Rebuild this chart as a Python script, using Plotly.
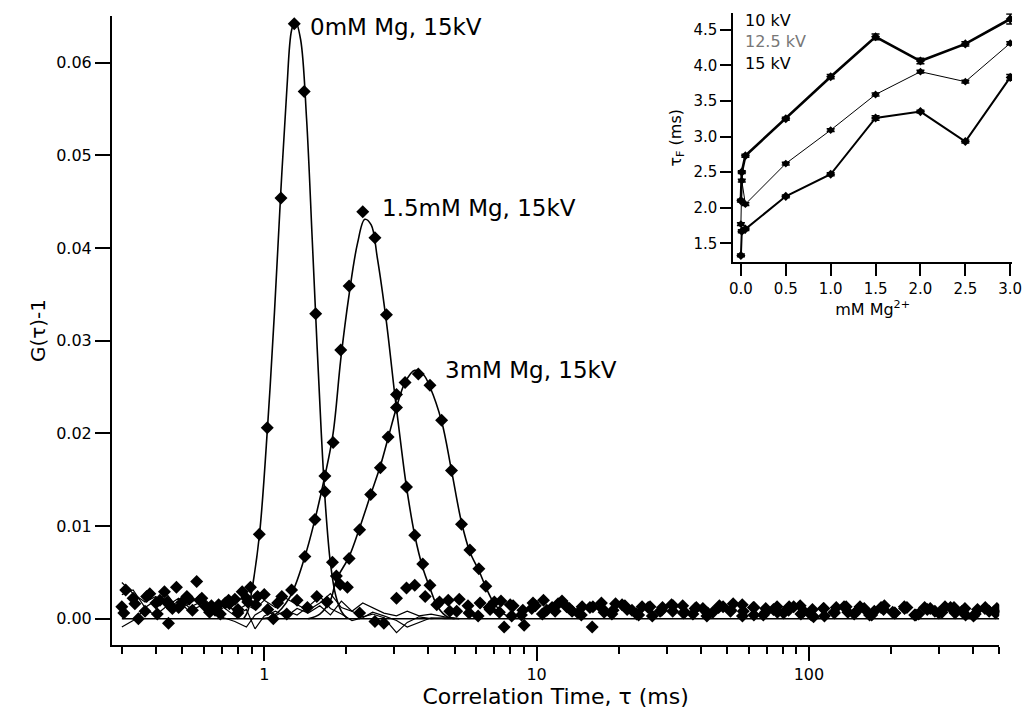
import plotly.graph_objects as go

# ---------------- main panel data ----------------
# 0 mM Mg, 15 kV : measured points
tau_0mM = [0.31, 0.345, 0.38, 0.414, 0.445, 0.476, 0.52, 0.565, 0.61, 0.66, 0.72, 0.78, 0.83, 0.89,
           0.959, 1.026, 1.152, 1.289, 1.402, 1.545, 1.67, 1.78,
           1.90, 2.02, 2.24, 2.55, 2.75, 3.06, 3.33, 3.57, 3.9, 4.3, 4.74, 5.09, 5.6, 6.1, 6.7, 7.3, 8.0,
           8.8, 9.6, 10.6, 11.7, 12.9, 14.2, 15.7, 17.3, 19.1, 21.1, 23.3, 25.7, 28.4, 31.3, 34.6, 38.2,
           42.2, 46.6, 51.5, 56.9, 62.8, 69.4, 76.6, 84.6, 93.4, 103, 114, 126, 139, 154, 170, 188, 207,
           229, 253, 279, 308, 341, 376, 416, 459, 490]
g_0mM = [0.0031, 0.0000, 0.0027, 0.0020, -0.0005, 0.0034, 0.0024, 0.0040, 0.0013, 0.0009, 0.0017, 0.0021, 0.0029, 0.0034,
         0.0091, 0.0206, 0.0454, 0.0642, 0.0569, 0.0329, 0.0137, 0.0061,
         0.0037, 0.0034, 0.0006, -0.0003, -0.0005, 0.0022, 0.0033, 0.0036, 0.0024, 0.0015, 0.0020, 0.0008, 0.0014, 0.0003, 0.0012, 0.0007, 0.0015,
         0.0004, 0.0011, 0.0020, 0.0008, 0.0013, 0.0006, 0.0012, 0.0017, 0.0009, 0.0014, 0.0005, 0.0012, 0.0008, 0.0015, 0.0006, 0.0011,
         0.0003, 0.0012, 0.0008, 0.0015, 0.0004, 0.0011, 0.0007, 0.0013, 0.0005, 0.0010, 0.0003, 0.0012, 0.0007, 0.0013, 0.0004, 0.0010, 0.0006,
         0.0012, 0.0005, 0.0011, 0.0007, 0.0012, 0.0004, 0.0010, 0.0008, 0.0011]

# 1.5 mM Mg, 15 kV : measured points
tau_15mM = [0.30, 0.33, 0.365, 0.40, 0.43, 0.46, 0.50, 0.545, 0.59, 0.64, 0.69, 0.745, 0.80, 0.86, 0.93, 1.00,
            1.08, 1.16, 1.26,
            1.41, 1.535, 1.67, 1.79, 1.91, 2.05, 2.30, 2.55, 2.81, 3.06, 3.33, 3.57, 3.82, 4.06,
            4.4, 4.8, 5.2, 5.65, 6.2, 6.75, 7.4, 8.1, 9.0, 9.9, 10.9, 12.0, 13.2, 14.6, 16.1, 17.7, 19.5,
            21.5, 23.7, 26.1, 28.8, 31.7, 35.0, 38.6, 42.5, 46.9, 51.7, 57.0, 62.9, 69.3, 76.4, 84.2, 92.9,
            102, 113, 124, 137, 151, 167, 184, 203, 224, 247, 272, 300, 331, 365, 402, 443, 485]
g_15mM = [0.0013, 0.0022, 0.0008, 0.0017, 0.0029, 0.0011, 0.0018, 0.0009, 0.0022, 0.0014, 0.0005, 0.0016, 0.0010, 0.0022, 0.0015, 0.0026,
          0.0000, 0.0024, 0.0031,
          0.0067, 0.0107, 0.0154, 0.0190, 0.0290, 0.0359, 0.0439, 0.0411, 0.0328, 0.0242, 0.0142, 0.0090, 0.0059, 0.0036,
          0.0018, 0.0008, 0.0021, 0.0006, 0.0017, 0.0010, 0.0019, 0.0003, -0.0007, 0.0014, 0.0009, 0.0016, 0.0011, 0.0004, 0.0013, 0.0007, 0.0016,
          0.0010, 0.0004, 0.0013, 0.0009, 0.0014, 0.0007, 0.0012, 0.0006, 0.0014, 0.0009, 0.0003, 0.0012, 0.0007, 0.0013, 0.0009, 0.0014,
          0.0004, 0.0011, 0.0006, 0.0013, 0.0009, 0.0004, 0.0012, 0.0007, 0.0013, 0.0004, 0.0010, 0.0006, 0.0012, 0.0008, 0.0003, 0.0011, 0.0006]

# 3 mM Mg, 15 kV : measured points
tau_3mM = [0.305, 0.335, 0.37, 0.405, 0.44, 0.485, 0.53, 0.58, 0.63, 0.68, 0.74, 0.80, 0.87, 0.945, 1.03, 1.12, 1.21, 1.32, 1.44, 1.56, 1.70,
           1.84, 2.05, 2.24, 2.46, 2.67, 2.85, 3.06, 3.29, 3.68, 4.06, 4.48, 4.87, 5.30, 5.69, 6.14, 6.51,
           7.0, 7.6, 8.2, 8.9, 9.7, 10.5, 11.4, 12.4, 13.5, 14.7, 16.0, 17.4, 18.9, 20.6, 22.4, 24.4, 26.6, 29.0,
           31.6, 34.4, 37.5, 40.8, 44.4, 48.4, 52.7, 57.4, 62.5, 68.0, 74.1, 80.7, 87.9, 95.7, 104, 113.5, 123.6,
           134.6, 146.6, 159.6, 173.8, 189.3, 206, 224.5, 244.5, 266, 290, 316, 344, 374, 408, 444, 480]
g_3mM = [0.0006, 0.0016, 0.0024, 0.0005, 0.0018, 0.0012, 0.0021, 0.0020, 0.0007, 0.0015, 0.0020, 0.0006, 0.0018, 0.0024, 0.0010, 0.0017, 0.0005, 0.0020, 0.0012, 0.0024, 0.0018,
         0.0046, 0.0065, 0.0096, 0.0134, 0.0163, 0.0196, 0.0228, 0.0255, 0.0264, 0.0252, 0.0214, 0.0160, 0.0102, 0.0074, 0.0054, 0.0035,
         0.0018, -0.0009, 0.0014, 0.0009, 0.0017, 0.0005, 0.0012, 0.0019, 0.0008, 0.0013, -0.0009, 0.0011, 0.0005, 0.0015, 0.0009, 0.0013, 0.0003, 0.0012,
         0.0008, 0.0014, 0.0005, 0.0011, 0.0007, 0.0013, 0.0016, 0.0008, 0.0012, 0.0004, 0.0010, 0.0006, 0.0013, 0.0008, 0.0002, 0.0011, 0.0007,
         0.0013, 0.0005, 0.0011, 0.0008, 0.0014, 0.0006, 0.0011, 0.0004, 0.0012, 0.0008, 0.0013, 0.0006, 0.0011, 0.0005, 0.0012, 0.0008]

# smooth fitted curves, peak part only
fit_tau_0mM = [0.84, 0.87, 0.90, 0.96, 1.03, 1.09, 1.15, 1.21, 1.26, 1.30, 1.36, 1.43, 1.50, 1.56, 1.62, 1.68, 1.75, 1.83, 1.92, 2.02]
fit_g_0mM = [0.0, 0.0008, 0.003, 0.009, 0.021, 0.033, 0.046, 0.057, 0.0635, 0.0645, 0.0625, 0.054, 0.041, 0.030, 0.020, 0.012, 0.006, 0.0025, 0.0008, 0.0]
fit_tau_15mM = [0.98, 1.08, 1.24, 1.41, 1.535, 1.67, 1.79, 1.91, 2.05, 2.20, 2.34, 2.47, 2.60, 2.81, 3.02, 3.20, 3.33, 3.57, 3.82, 4.06, 4.35, 4.7, 5.0]
fit_g_15mM = [0.0, 0.0003, 0.0023, 0.0067, 0.0107, 0.0154, 0.0200, 0.0280, 0.0350, 0.0405, 0.0431, 0.0425, 0.0390, 0.0320, 0.0240, 0.0180, 0.0142, 0.0090, 0.0055, 0.0033, 0.0012, 0.0002, 0.0]
fit_tau_3mM = [1.45, 1.60, 1.75, 1.84, 2.05, 2.24, 2.46, 2.67, 2.85, 3.06, 3.29, 3.57, 3.85, 4.06, 4.48, 4.87, 5.30, 5.69, 6.14, 6.51, 7.0, 7.6, 8.3]
fit_g_3mM = [0.0, 0.0005, 0.0020, 0.0042, 0.0067, 0.0098, 0.0134, 0.0165, 0.0195, 0.0228, 0.0255, 0.0268, 0.0263, 0.0250, 0.0213, 0.0160, 0.0104, 0.0072, 0.0052, 0.0034, 0.0016, 0.0005, 0.0]

# flat zero line of the fits
zero_tau = [0.30, 500]
zero_g = [0.0, 0.0]

# jagged baseline traces (lines only)
noise_tau = [0.30, 0.33, 0.365, 0.40, 0.44, 0.485, 0.53, 0.585, 0.645, 0.71, 0.78, 0.86, 0.925, 1.0, 1.1, 1.2,
             1.32, 1.45, 1.6, 1.75, 1.92, 2.1, 2.3, 2.5, 2.75, 3.06, 3.35, 3.7, 4.1, 4.6, 5.2]
noise_a = [0.0039, 0.0027, 0.0018, 0.0024, 0.0011, 0.0019, 0.0008, 0.0014, 0.0005, 0.0012, 0.0003, 0.0010, -0.0011, 0.0003, 0.0008, 0.0002,
           0.0011, 0.0006, 0.0014, 0.0004, 0.0019, 0.0008, 0.0002, 0.0005, 0.0001, -0.0015, -0.0004, 0.0002, 0.0000, 0.0001, 0.0]
noise_b = [-0.0009, -0.0002, 0.0010, 0.0004, 0.0014, 0.0022, 0.0012, 0.0018, 0.0009, 0.0001, -0.0003, -0.0009, 0.0004, 0.0010, 0.0003, 0.0009,
           0.0004, 0.0013, 0.0024, 0.0011, 0.0005, -0.0002, 0.0001, 0.0007, 0.0003, -0.0002, -0.0009, -0.0004, 0.0001, 0.0000, 0.0]
noise_c = [0.0026, 0.0031, 0.0012, 0.0020, 0.0026, 0.0010, 0.0016, 0.0025, 0.0013, 0.0019, 0.0008, 0.0015, 0.0010, 0.0020, 0.0012, 0.0022,
           0.0015, 0.0009, 0.0017, 0.0027, 0.0012, 0.0008, 0.0017, 0.0012, 0.0006, 0.0003, 0.0008, 0.0003, 0.0005, 0.0002, 0.0]

labels_main = ["0mM Mg, 15kV", "1.5mM Mg, 15kV", "3mM Mg, 15kV"]
x_ticks_main = [1, 10, 100]

# ---------------- inset data ----------------
mg_conc = [0.0, 0.01, 0.05, 0.5, 1.0, 1.5, 2.0, 2.5, 3.0]
tauF_10kV = [2.10, 2.50, 2.73, 3.25, 3.84, 4.40, 4.06, 4.30, 4.65]
tauF_12kV = [1.77, 2.38, 2.05, 2.62, 3.09, 3.59, 3.91, 3.77, 4.31]
tauF_15kV = [1.33, 1.67, 1.70, 2.16, 2.47, 3.26, 3.35, 2.93, 3.83]
err_10kV = [0.02, 0.02, 0.02, 0.02, 0.03, 0.04, 0.04, 0.03, 0.07]
err_12kV = [0.02, 0.02, 0.02, 0.02, 0.02, 0.02, 0.02, 0.02, 0.02]
err_15kV = [0.02, 0.02, 0.02, 0.02, 0.02, 0.03, 0.02, 0.02, 0.04]
inset_labels = ["10 kV", "12.5 kV", "15 kV"]
inset_label_colors = ["black", "#777777", "black"]

FONT = "DejaVu Sans"
fig = go.Figure()

# baseline noise lines
for nz in (noise_a, noise_b, noise_c):
    fig.add_trace(go.Scatter(x=noise_tau, y=nz, mode="lines",
                             line=dict(color="black", width=1.2), xaxis="x", yaxis="y"))
# zero line of the fits
fig.add_trace(go.Scatter(x=zero_tau, y=zero_g, mode="lines", line=dict(color="black", width=1.5),
                         xaxis="x", yaxis="y"))
# fits
for ft, fg in ((fit_tau_0mM, fit_g_0mM), (fit_tau_15mM, fit_g_15mM), (fit_tau_3mM, fit_g_3mM)):
    fig.add_trace(go.Scatter(x=ft, y=fg, mode="lines", line=dict(color="black", width=1.6, shape="spline"),
                             xaxis="x", yaxis="y"))
# measured points
for tt, gg in ((tau_0mM, g_0mM), (tau_15mM, g_15mM), (tau_3mM, g_3mM)):
    fig.add_trace(go.Scatter(x=tt, y=gg, mode="markers",
                             marker=dict(symbol="diamond", size=10, color="black"),
                             xaxis="x", yaxis="y"))

# inset series
for yy, ee, lw, ms in ((tauF_10kV, err_10kV, 2.6, 7), (tauF_12kV, err_12kV, 1.0, 6), (tauF_15kV, err_15kV, 2.0, 7)):
    fig.add_trace(go.Scatter(x=mg_conc, y=yy, mode="lines+markers",
                             line=dict(color="black", width=lw),
                             marker=dict(symbol="diamond", size=ms, color="black"),
                             error_y=dict(type="data", array=ee, visible=True, color="black", thickness=1.5, width=4),
                             xaxis="x2", yaxis="y2"))

# labels near the peaks
label_pos = [(0.1615, 0.0639), (0.4248, 0.0443), (0.657, 0.0268)]
for txt, (lx, ly) in zip(labels_main, label_pos):
    fig.add_annotation(x=lx, y=ly, xref="x", yref="y", text=txt, showarrow=False,
                       xanchor="left", yanchor="middle", font=dict(family=FONT, size=23, color="black"))

# inset legend texts
inset_label_y = [0.984, 0.950, 0.916]
for txt, col, ly in zip(inset_labels, inset_label_colors, inset_label_y):
    fig.add_annotation(x=0.6988, y=ly, xref="paper", yref="paper", text=txt, showarrow=False,
                       xanchor="left", yanchor="middle", font=dict(family=FONT, size=16, color=col))

axis_common = dict(showline=True, linecolor="black", linewidth=2, showgrid=False, zeroline=False,
                   ticks="outside", tickcolor="black", mirror=False)

fig.update_layout(
    width=1025, height=721,
    margin=dict(l=112, r=10, t=10, b=76, autoexpand=False),
    paper_bgcolor="white", plot_bgcolor="white",
    showlegend=False,
    font=dict(family=FONT, color="black"),
    xaxis=dict(type="log", range=[-0.559, 2.699], domain=[0, 0.9826], anchor="y",
               tickvals=x_ticks_main, ticktext=[str(v) for v in x_ticks_main],
               ticklen=14, tickwidth=1.5, tickfont=dict(size=16),
               minor=dict(ticks="outside", ticklen=7, tickwidth=1.5, tickcolor="black", dtick="D1", showgrid=False),
               title=dict(text="Correlation Time, τ (ms)", font=dict(size=22), standoff=0),
               **axis_common),
    yaxis=dict(range=[-0.00284, 0.06504], domain=[0, 0.9906], anchor="x",
               tick0=0, dtick=0.01, tickformat=".2f", ticklen=15, tickwidth=1.5, tickfont=dict(size=16),
               title=dict(text="G(τ)-1", font=dict(size=20), standoff=5),
               **axis_common),
    xaxis2=dict(range=[-0.085, 3.02], domain=[0.688, 0.9967], anchor="y2",
                tick0=0, dtick=0.5, tickformat=".1f", ticklen=12, tickwidth=1.5, tickfont=dict(size=15),
                ticklabeloverflow="allow",
                title=dict(text="mM Mg<sup>2+</sup>", font=dict(size=16), standoff=6),
                **axis_common),
    yaxis2=dict(range=[1.234, 4.73], domain=[0.6027, 0.9948], anchor="x2",
                tick0=1.5, dtick=0.5, tickformat=".1f", ticklen=11, tickwidth=1.5, tickfont=dict(size=15),
                title=dict(text="τ<sub>F</sub> (ms)", font=dict(size=16), standoff=8),
                **axis_common),
)

fig.write_html("out.html", config={"displayModeBar": False},
               post_script="document.body.style.margin='0';document.body.style.overflow='hidden';")
